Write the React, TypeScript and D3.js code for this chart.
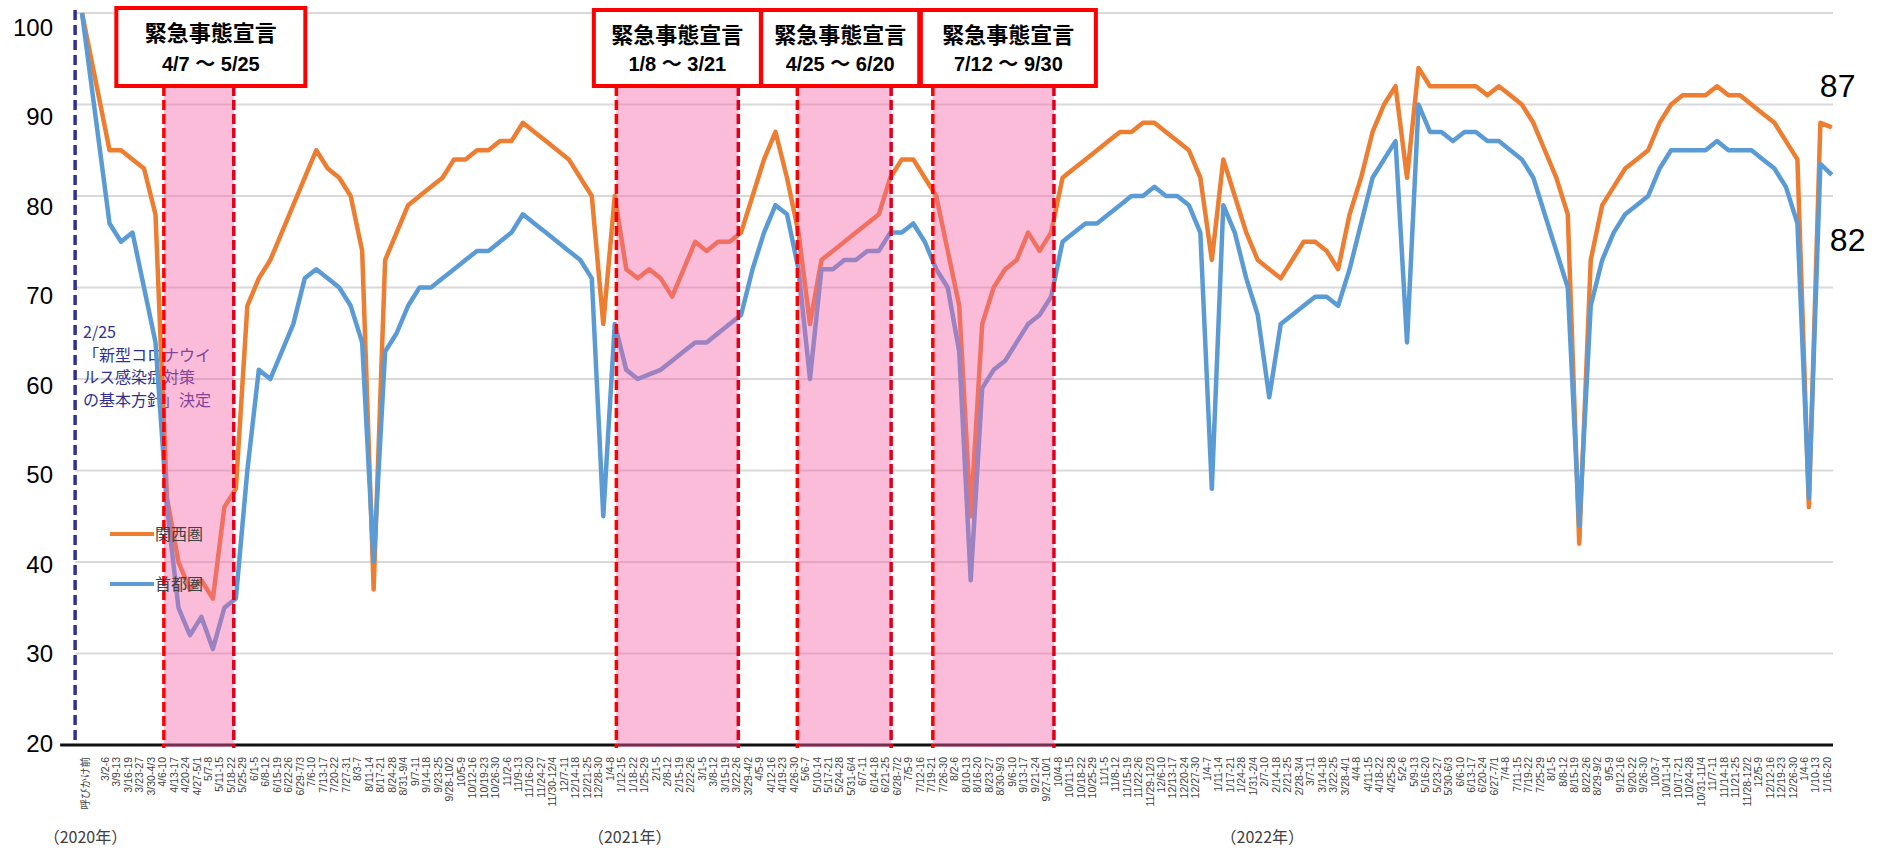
import * as d3 from 'd3';

// weekly business-day ranges (2020/3 - 2023/1)
const baselineLabel = '呼びかけ前';
const weekLabels = [
  '3/2-6', '3/9-13', '3/16-19', '3/23-27', '3/30-4/3', '4/6-10', '4/13-17', '4/20-24', '4/27-5/1', '5/7-8',
  '5/11-15', '5/18-22', '5/25-29', '6/1-5', '6/8-12', '6/15-19', '6/22-26', '6/29-7/3', '7/6-10', '7/13-17',
  '7/20-22', '7/27-31', '8/3-7', '8/11-14', '8/17-21', '8/24-28', '8/31-9/4', '9/7-11', '9/14-18', '9/23-25',
  '9/28-10/2', '10/5-9', '10/12-16', '10/19-23', '10/26-30', '11/2-6', '11/9-13', '11/16-20', '11/24-27', '11/30-12/4',
  '12/7-11', '12/14-18', '12/21-25', '12/28-30',
  '1/4-8', '1/12-15', '1/18-22', '1/25-29', '2/1-5', '2/8-12', '2/15-19', '2/22-26', '3/1-5', '3/8-12',
  '3/15-19', '3/22-26', '3/29-4/2', '4/5-9', '4/12-16', '4/19-23', '4/26-30', '5/6-7', '5/10-14', '5/17-21',
  '5/24-28', '5/31-6/4', '6/7-11', '6/14-18', '6/21-25', '6/28-7/2', '7/5-9', '7/12-16', '7/19-21', '7/26-30',
  '8/2-6', '8/10-13', '8/16-20', '8/23-27', '8/30-9/3', '9/6-10', '9/13-17', '9/21-24', '9/27-10/1', '10/4-8',
  '10/11-15', '10/18-22', '10/25-29', '11/1-5', '11/8-12', '11/15-19', '11/22-26', '11/29-12/3', '12/6-10', '12/13-17',
  '12/20-24', '12/27-30',
  '1/4-7', '1/11-14', '1/17-21', '1/24-28', '1/31-2/4', '2/7-10', '2/14-18', '2/21-25', '2/28-3/4', '3/7-11',
  '3/14-18', '3/22-25', '3/28-4/1', '4/4-8', '4/11-15', '4/18-22', '4/25-28', '5/2-6', '5/9-13', '5/16-20',
  '5/23-27', '5/30-6/3', '6/6-10', '6/13-17', '6/20-24', '6/27-7/1', '7/4-8', '7/11-15', '7/19-22', '7/25-29',
  '8/1-5', '8/8-12', '8/15-19', '8/22-26', '8/29-9/2', '9/5-9', '9/12-16', '9/20-22', '9/26-30', '10/3-7',
  '10/11-14', '10/17-21', '10/24-28', '10/31-11/4', '11/7-11', '11/14-18', '11/21-25', '11/28-12/2', '12/5-9', '12/12-16',
  '12/19-23', '12/26-30',
  '1/4-6', '1/10-13', '1/16-20',
];

// 関西圏 (orange), one value per week
const kansai = [
  85, 85, 84, 83, 78, 47, 40, 37, 38, 36, 46, 48, 68, 71, 73, 76, 79, 82, 85, 83,
  82, 80, 74, 37, 73, 76, 79, 80, 81, 82, 84, 84, 85, 85, 86, 86, 88, 87, 86, 85,
  84, 82, 80, 66,
  80, 72, 71, 72, 71, 69, 72, 75, 74, 75, 75, 76, 80, 84, 87, 82, 76, 66, 73, 74,
  75, 76, 77, 78, 82, 84, 84, 82, 80, 74, 68, 45, 66, 70, 72, 73, 76, 74, 76, 82,
  83, 84, 85, 86, 87, 87, 88, 88, 87, 86, 85, 82,
  73, 84, 80, 76, 73, 72, 71, 73, 75, 75, 74, 72, 78, 82, 87, 90, 92, 82, 94, 92,
  92, 92, 92, 92, 91, 92, 91, 90, 88, 85, 82, 78, 42, 73, 79, 81, 83, 84, 85, 88,
  90, 91, 91, 91, 92, 91, 91, 90, 89, 88, 86, 84,
  46, 88, 87.5,
];

// 首都圏 (blue)
const shuto = [
  77, 75, 76, 70, 64, 46, 35, 32, 34, 30.5, 35, 36, 50, 61, 60, 63, 66, 71, 72, 71,
  70, 68, 64, 40, 63, 65, 68, 70, 70, 71, 72, 73, 74, 74, 75, 76, 78, 77, 76, 75,
  74, 73, 71, 45,
  66, 61, 60, 60.5, 61, 62, 63, 64, 64, 65, 66, 67, 72, 76, 79, 78, 72, 60, 72, 72,
  73, 73, 74, 74, 76, 76, 77, 75, 72, 70, 63, 38, 59, 61, 62, 64, 66, 67, 69, 75,
  76, 77, 77, 78, 79, 80, 80, 81, 80, 80, 79, 76,
  48, 79, 76, 71, 67, 58, 66, 67, 68, 69, 69, 68, 72, 77, 82, 84, 86, 64, 90, 87,
  87, 86, 87, 87, 86, 86, 85, 84, 82, 78, 74, 70, 44, 68, 73, 76, 78, 79, 80, 83,
  85, 85, 85, 85, 86, 85, 85, 85, 84, 83, 81, 77,
  47, 83.5, 82.3,
];

const baseline = { kansai: 100, shuto: 100 };
const yTicks = [20, 30, 40, 50, 60, 70, 80, 90, 100];

// emergency declarations, given as positions on the week axis
const emergencies = [
  { title: '緊急事態宣言', range: '4/7 〜 5/25', from: 5.13, to: 11.22 },
  { title: '緊急事態宣言', range: '1/8 〜 3/21', from: 44.54, to: 55.16 },
  { title: '緊急事態宣言', range: '4/25 〜 6/20', from: 60.3, to: 68.47 },
  { title: '緊急事態宣言', range: '7/12 〜 9/30', from: 72.1, to: 82.65 },
];
const boxLayout = [
  { w: 189, dx: 12, top: 8 },
  { w: 167, dx: 0, top: 10 },
  { w: 158, dx: -4, top: 10 },
  { w: 175, dx: 15, top: 10 },
];

const yearLabels = [
  { text: '（2020年）', at: -1.7 },
  { text: '（2021年）', at: 45.7 },
  { text: '（2022年）', at: 100.8 },
];
const policyNote = { at: -2.6, lines: ['2/25', '「新型コロナウイ', 'ルス感染症対策', 'の基本方針」決定'] };
const endLabels = { kansai: '87', shuto: '82' };

const ORANGE = '#ED7D31';
const BLUE = '#5B9BD5';
const NAVY = '#2E3192';
const JP = '"Noto Sans CJK JP", sans-serif';
const SANS = '"Liberation Sans", Arial, "Noto Sans CJK JP", sans-serif';

export default function App() {
  const W = 1881;
  const H = 852;
  const x = d3.scaleLinear().domain([-2, 150.5]).range([82, 1833]);
  const y = d3.scaleLinear().domain([20, 100]).range([745, 13]);
  // the axis numbers sit on a slightly tighter spacing than the gridlines
  const yLab = d3.scaleLinear().domain([20, 100]).range([743, 27]);

  type P = { i: number; v: number };
  const mk = (base: number, arr: number[]): P[] => [
    { i: -2, v: base },
    ...arr.map((v, i) => ({ i: i + 0.4, v })),
  ];
  const line = d3
    .line<P>()
    .x((d) => x(d.i))
    .y((d) => y(d.v))
    .curve(d3.curveLinear);

  const kPts = mk(baseline.kansai, kansai);
  const sPts = mk(baseline.shuto, shuto);
  const lastX = x(weekLabels.length - 1 + 0.4);
  const x0 = x(-2.6);
  const x1 = 1833;

  return (
    <svg width={W} height={H} style={{ position: 'absolute', left: 0, top: 0, background: '#fff' }}>
      <rect width={W} height={H} fill="#fff" />
      {/* gridlines */}
      {yTicks.slice(1).map((t) => (
        <line key={t} x1={x0} x2={x1} y1={y(t)} y2={y(t)} stroke="#D9D9D9" strokeWidth={2} />
      ))}
      <line x1={x0 - 15} x2={x1} y1={y(20)} y2={y(20)} stroke="#111" strokeWidth={3} />

      {/* policy note */}
      <line x1={x(policyNote.at)} x2={x(policyNote.at)} y1={10} y2={745} stroke={NAVY} strokeWidth={3.5} strokeDasharray="10 5" />
      {policyNote.lines.map((t, k) => (
        <text key={k} x={83} y={338 + k * 22.5} fontFamily={JP} fontSize={16} fill={NAVY}>
          {t}
        </text>
      ))}

      {/* series */}
      <path d={line(kPts) || ''} fill="none" stroke={ORANGE} strokeWidth={4.5} strokeLinejoin="round" />
      <path d={line(sPts) || ''} fill="none" stroke={BLUE} strokeWidth={4.5} strokeLinejoin="round" />

      {/* emergency bands */}
      {emergencies.map((e, k) => {
        const a = x(e.from);
        const b = x(e.to);
        return (
          <g key={k}>
            <rect x={a} y={86} width={b - a} height={745 - 86 + 2} fill="#F560A5" opacity={0.42} />
            <line x1={a} x2={a} y1={86} y2={748} stroke="#FF0000" strokeWidth={3.5} strokeDasharray="10 4" />
            <line x1={b} x2={b} y1={86} y2={748} stroke="#E0001A" strokeWidth={3.5} strokeDasharray="10 4" />
          </g>
        );
      })}
      {emergencies.map((e, k) => {
        const L = boxLayout[k];
        const cx = (x(e.from) + x(e.to)) / 2 + L.dx;
        return (
          <g key={'b' + k}>
            <rect x={cx - L.w / 2} y={L.top} width={L.w} height={86 - L.top} fill="#fff" stroke="#FF0000" strokeWidth={4} />
            <text x={cx} y={L.top + 33} textAnchor="middle" fontFamily={JP} fontWeight={700} fontSize={22} fill="#000">
              {e.title}
            </text>
            <text x={cx} y={71} textAnchor="middle" fontFamily={SANS} fontWeight={700} fontSize={20} fill="#000">
              {e.range}
            </text>
          </g>
        );
      })}

      {/* legend */}
      <line x1={110} x2={154} y1={534} y2={534} stroke={ORANGE} strokeWidth={4} />
      <text x={155} y={534} dy="0.35em" fontFamily={JP} fontSize={16} fill="#404040">関西圏</text>
      <line x1={110} x2={154} y1={584} y2={584} stroke={BLUE} strokeWidth={4} />
      <text x={155} y={584} dy="0.35em" fontFamily={JP} fontSize={16} fill="#404040">首都圏</text>

      {/* y axis labels */}
      {yTicks.map((t) => (
        <text key={t} x={53} y={yLab(t)} dy="0.36em" textAnchor="end" fontFamily={SANS} fontSize={24} fill="#000">
          {t}
        </text>
      ))}

      {/* x axis labels */}
      {[baselineLabel, ...weekLabels].map((lab, k) => {
        const px = k === 0 ? x(-1.75) : x(k - 1);
        return (
          <text
            key={k}
            transform={`translate(${px},757) rotate(-90)`}
            dy="0.35em"
            textAnchor="end"
            fontFamily={SANS}
            fontSize={10.5}
            fill="#404040"
          >
            {lab}
          </text>
        );
      })}
      {yearLabels.map((d) => (
        <text key={d.text} x={x(d.at)} y={843} textAnchor="middle" fontFamily={JP} fontSize={16} fill="#404040">
          {d.text}
        </text>
      ))}

      {/* end values */}
      <text x={lastX - 12} y={y(kansai[kansai.length - 1]) - 30} fontFamily={SANS} fontSize={32} fill="#000">
        {endLabels.kansai}
      </text>
      <text x={lastX - 2} y={y(shuto[shuto.length - 1]) + 76} fontFamily={SANS} fontSize={32} fill="#000">
        {endLabels.shuto}
      </text>
    </svg>
  );
}
